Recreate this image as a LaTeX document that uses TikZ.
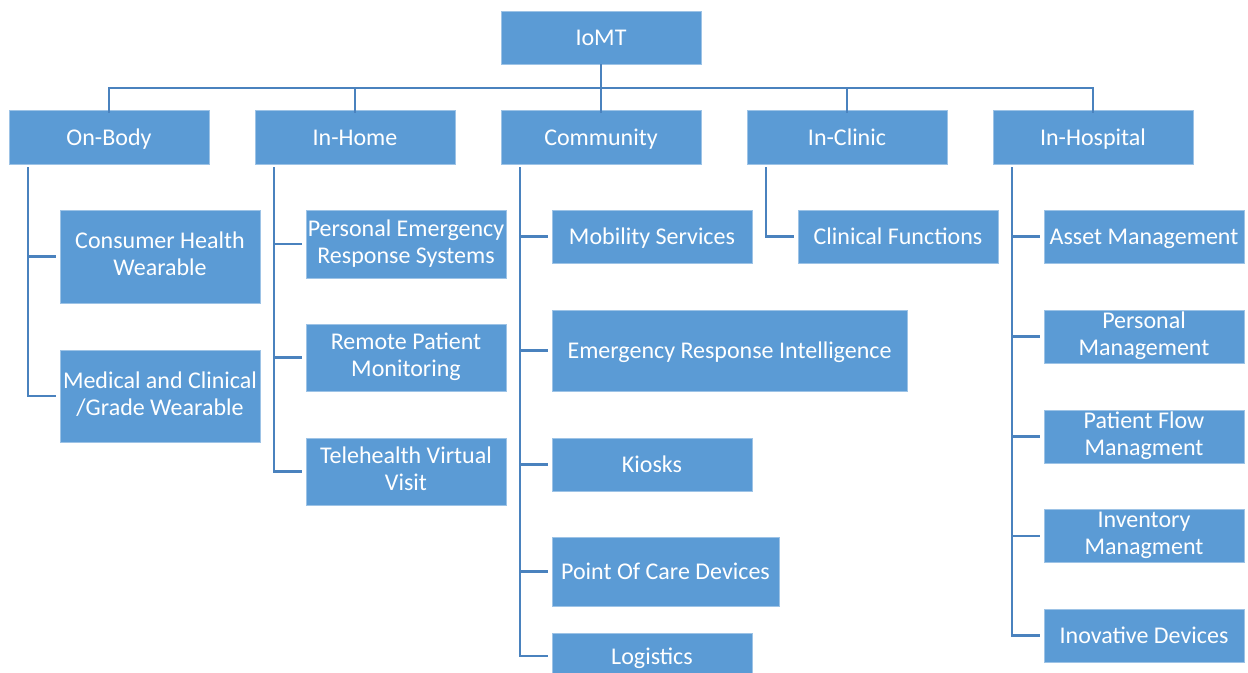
\documentclass[tikz,border=0pt]{standalone}
\usepackage{fontspec}
\setmainfont{Carlito}
\definecolor{boxblue}{HTML}{5B9BD5}
\definecolor{boxedge}{HTML}{9DC3E6}
\definecolor{linkblue}{HTML}{4A82BE}
\newcommand\lblstrut{\rule[-3.9pt]{0pt}{20.5pt}}
\begin{document}
\begin{tikzpicture}[x=0.75pt,y=-0.75pt,
  lbl/.style={text=white,inner sep=0pt,align=center,font=\fontsize{18}{20.5}\selectfont,
    execute at begin node=\lblstrut,execute at end node=\lblstrut},
  box/.style={lbl,fill=boxblue,draw=boxedge,line width=0.4pt},
  wd/.style={minimum width=#1*0.75pt},
  ht/.style={minimum height=#1*0.75pt},
  link/.style={draw=linkblue,line width=1.8pt}]
\useasboundingbox[fill=white] (0,0) rectangle (1248,673);
% nodes
\node[box,wd=200,ht=53] (root) at (601,37.5) {IoMT};
\node[box,wd=200,ht=54] (onbody) at (109,137) {On-Body};
\node[box,wd=200,ht=54] (inhome) at (355,137) {In-Home};
\node[box,wd=200,ht=54] (community) at (601,137) {Community};
\node[box,wd=200,ht=54] (inclinic) at (847,137) {In-Clinic};
\node[box,wd=200,ht=54] (inhosp) at (1093,137) {In-Hospital};
% on-body
\node[box,wd=200,ht=93] (chw) at (160,256.5) {Consumer Health\\Wearable};
\node[box,wd=200,ht=92] (mcw) at (160,396) {Medical and Clinical\\/Grade Wearable};
% in-home
\node[box,wd=200,ht=68] (pers) at (406,244) {Personal Emergency\\Response Systems};
\node[box,wd=200,ht=67] (rpm) at (406,357.5) {Remote Patient\\Monitoring};
\node[box,wd=200,ht=67] (tvv) at (406,471.5) {Telehealth Virtual\\Visit};
% community
\node[box,wd=200,ht=53] (mob) at (652,236.5) {Mobility Services};
\node[box,wd=355,ht=81] (eri) at (729.5,350.5) {Emergency Response Intelligence};
\node[box,wd=200,ht=53] (kio) at (652,464.5) {Kiosks};
\node[box,wd=227,ht=69] (poc) at (665.5,571.5) {Point Of Care Devices};
\node[box,wd=200,ht=46,anchor=north] (logi) at (652,633) {};
\node[lbl] (logt) at (652,656) {Logistics};
% in-clinic
\node[box,wd=200,ht=53] (clf) at (898,236.5) {Clinical Functions};
% in-hospital
\node[box,wd=200,ht=53] (asset) at (1144,236.5) {Asset Management};
\node[box,wd=200,ht=53] (pm) at (1144,336.5) {Personal\\Management};
\node[box,wd=200,ht=53] (pf) at (1144,436.5) {Patient Flow\\Managment};
\node[box,wd=200,ht=53] (inv) at (1144,536) {Inventory\\Managment};
\node[box,wd=200,ht=53] (ino) at (1144,635.5) {Inovative Devices};
% top bus
\coordinate (busy) at (0,88);
\draw[link] (root.south) -- (root.south |- busy);
\draw[link] ([yshift=-2.25pt]onbody.north) -- (onbody.north |- busy) -- (inhosp.north |- busy) -- ([yshift=-2.25pt]inhosp.north);
\draw[link] ([yshift=-2.25pt]inhome.north) -- (inhome.north |- busy);
\draw[link] ([yshift=-2.25pt]community.north) -- (community.north |- busy);
\draw[link] ([yshift=-2.25pt]inclinic.north) -- (inclinic.north |- busy);
% trunks
\coordinate (t1) at ([xshift=14.25pt,yshift=-2.25pt]onbody.south west);
\coordinate (t2) at ([xshift=14.25pt,yshift=-2.25pt]inhome.south west);
\coordinate (t3) at ([xshift=14.25pt,yshift=-2.25pt]community.south west);
\coordinate (t4) at ([xshift=14.25pt,yshift=-2.25pt]inclinic.south west);
\coordinate (t5) at ([xshift=14.25pt,yshift=-2.25pt]inhosp.south west);
\draw[link] (t1) |- ([xshift=-3pt]mcw.west);
\draw[link] ([xshift=-3pt]chw.west) -- (chw.west -| t1);
\draw[link] (t2) |- ([xshift=-3pt]tvv.west);
\draw[link] ([xshift=-3pt]pers.west) -- (pers.west -| t2);
\draw[link] ([xshift=-3pt]rpm.west) -- (rpm.west -| t2);
\draw[link] (t3) |- ([xshift=-3pt]logi.west |- logt);
\draw[link] ([xshift=-3pt]mob.west) -- (mob.west -| t3);
\draw[link] ([xshift=-3pt]eri.west) -- (eri.west -| t3);
\draw[link] ([xshift=-3pt]kio.west) -- (kio.west -| t3);
\draw[link] ([xshift=-3pt]poc.west) -- (poc.west -| t3);
\draw[link] (t4) |- ([xshift=-3pt]clf.west);
\draw[link] (t5) |- ([xshift=-3pt]ino.west);
\draw[link] ([xshift=-3pt]asset.west) -- (asset.west -| t5);
\draw[link] ([xshift=-3pt]pm.west) -- (pm.west -| t5);
\draw[link] ([xshift=-3pt]pf.west) -- (pf.west -| t5);
\draw[link] ([xshift=-3pt]inv.west) -- (inv.west -| t5);
\end{tikzpicture}
\end{document}
